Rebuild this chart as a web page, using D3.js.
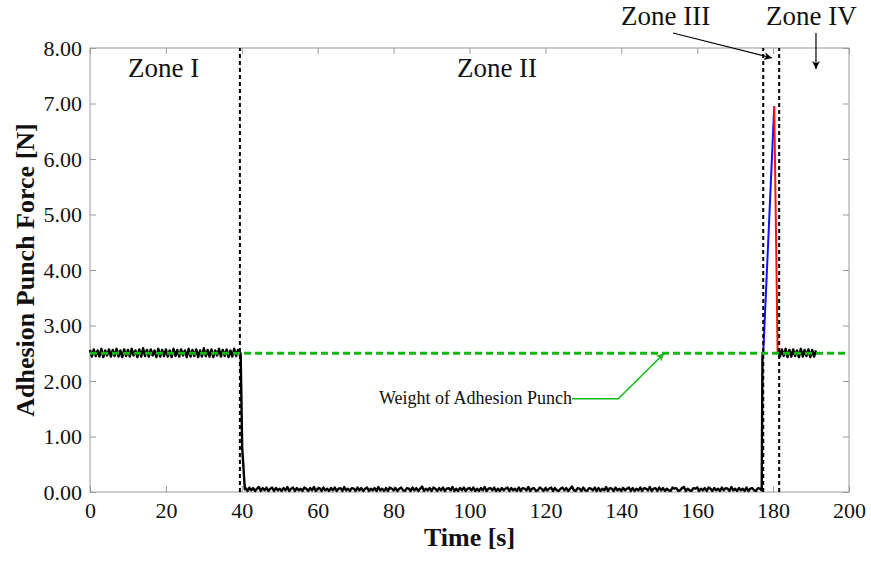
<!DOCTYPE html>
<html><head><meta charset="utf-8">
<script src="https://cdn.jsdelivr.net/npm/d3@7"></script>
<style>
body{margin:0;background:#fff}
svg{display:block}
text{font-family:"Liberation Serif","Times New Roman",serif;fill:#111}
</style>
</head><body>
<svg id="c" width="871" height="561"></svg>
<script>
// ---------------- data ----------------
const xTicks = [0, 20, 40, 60, 80, 100, 120, 140, 160, 180, 200];
const yTicks = [0, 1, 2, 3, 4, 5, 6, 7, 8];
const xTitle = "Time [s]";
const yTitle = "Adhesion Punch Force [N]";

// Zone I: punch resting, sampled every 0.5 s from t = 0
const zone1Start = 0, zone1Step = 0.5;
const zone1Force = [
 2.56,2.44,2.57,2.45,2.55,2.44,2.58,2.43,2.55,2.46,2.57,2.44,2.56,2.45,2.58,2.44,2.55,2.43,2.57,2.45,
 2.56,2.44,2.58,2.46,2.55,2.43,2.57,2.44,2.59,2.45,2.56,2.44,2.57,2.46,2.55,2.43,2.58,2.44,2.56,2.45,
 2.57,2.44,2.55,2.43,2.58,2.45,2.56,2.44,2.57,2.46,2.55,2.43,2.58,2.44,2.56,2.45,2.57,2.43,2.55,2.44,
 2.59,2.45,2.56,2.44,2.57,2.43,2.55,2.46,2.58,2.44,2.56,2.45,2.57,2.43,2.55,2.44,2.58,2.45,2.56,2.47
];
// drop when punch is lifted
const dropTimes = [39.7, 40.1, 40.8];
const dropForce = [2.50, 0.80, 0.05];
// Zone II: punch lifted, sampled every 0.5 s from t = 41
const zone2Start = 41, zone2Step = 0.5;
const zone2Force = [
 .07,.02,.08,.03,.07,.02,.06,.09,.02,.07,.03,.08,.02,.06,.08,.02,.07,.03,.06,.02,
 .07,.03,.09,.02,.06,.08,.02,.07,.03,.06,.02,.08,.06,.02,.07,.03,.09,.02,.06,.07,
 .02,.08,.03,.06,.02,.07,.03,.08,.02,.06,.07,.02,.09,.03,.06,.02,.07,.06,.02,.08,
 .03,.07,.02,.06,.08,.02,.06,.03,.07,.02,.09,.03,.06,.02,.07,.02,.08,.06,.03,.07,
 .02,.06,.08,.03,.02,.07,.06,.02,.08,.03,.07,.02,.06,.10,.02,.06,.03,.07,.02,.08,
 .06,.02,.07,.03,.08,.02,.06,.07,.03,.09,.02,.06,.02,.07,.03,.08,.02,.06,.07,.03,
 .08,.02,.06,.02,.07,.03,.09,.02,.06,.07,.03,.08,.02,.06,.02,.07,.03,.06,.08,.02,
 .07,.03,.06,.02,.08,.02,.07,.06,.03,.09,.02,.06,.07,.02,.03,.08,.06,.02,.07,.03,
 .06,.08,.02,.07,.03,.02,.06,.08,.03,.07,.02,.06,.10,.03,.02,.07,.06,.02,.08,.03,
 .02,.07,.06,.03,.08,.02,.07,.02,.06,.03,.09,.02,.07,.06,.02,.08,.03,.06,.02,.07,
 .03,.06,.08,.02,.07,.02,.06,.03,.08,.02,.07,.06,.03,.09,.02,.06,.07,.02,.08,.03,
 .07,.02,.06,.03,.02,.08,.06,.07,.02,.03,.07,.09,.02,.06,.03,.02,.07,.06,.08,.02,
 .06,.03,.07,.02,.08,.06,.02,.07,.03,.06,.02,.08,.03,.07,.06,.02,.09,.03,.06,.02,
 .07,.03,.06,.02,.08,.02,.06,.07,.03,.02,.07,.06,.03
];
// rise when punch touches again
const riseTimes = [177.2];
const riseForce = [2.50];
// Zone III: loading (blue) and unloading (red)
const loadTimes = [177.4, 180.3];
const loadForce = [2.50, 6.95];
const unloadTimes = [180.3, 181.2];
const unloadForce = [6.95, 2.50];
// Zone IV: resting again, sampled every 0.5 s from t = 181.3
const zone4Start = 181.3, zone4Step = 0.5;
const zone4Force = [
 2.56,2.44,2.57,2.45,2.58,2.43,2.56,2.44,2.57,2.45,2.55,2.43,2.58,2.44,2.56,2.45,2.57,2.43,2.56,2.44,2.55
];
// zone boundaries (s) and weight of punch (N)
const zoneBounds = [39.5, 177.4, 181.6];
const punchWeight = 2.5;
const zoneLabels = ["Zone I", "Zone II", "Zone III", "Zone IV"];
const weightLabel = "Weight of Adhesion Punch";

// ---------------- chart ----------------
const svg = d3.select("#c");
const L = 90, R = 849, T = 48, B = 492;
const x = d3.scaleLinear().domain([0, 200]).range([L, R]);
const y = d3.scaleLinear().domain([0, 8]).range([B, T]);

const series = (start, step, vals) => vals.map((v, i) => [start + i * step, v]);
const pairs = (ts, vs) => ts.map((t, i) => [t, vs[i]]);

const black1 = [].concat(
  series(zone1Start, zone1Step, zone1Force),
  pairs(dropTimes, dropForce),
  series(zone2Start, zone2Step, zone2Force),
  pairs(riseTimes, riseForce)
);
const black2 = series(zone4Start, zone4Step, zone4Force);

const line = d3.line().x(d => x(d[0])).y(d => y(d[1]));

const frameColor = "#9a9a9a";
const serif = '"Liberation Serif","Times New Roman",serif';

// axes with inward ticks
const gx = svg.append("g").attr("transform", `translate(0,${B})`)
  .call(d3.axisBottom(x).tickValues(xTicks).tickSizeInner(-6).tickSizeOuter(0).tickPadding(10).tickFormat(d3.format("d")));
const gxt = svg.append("g").attr("transform", `translate(0,${T})`)
  .call(d3.axisTop(x).tickValues(xTicks).tickSizeInner(-6).tickSizeOuter(0).tickFormat(""));
const gy = svg.append("g").attr("transform", `translate(${L},0)`)
  .call(d3.axisLeft(y).tickValues(yTicks).tickSizeInner(-6).tickSizeOuter(0).tickPadding(8).tickFormat(d3.format(".2f")));
const gyr = svg.append("g").attr("transform", `translate(${R},0)`)
  .call(d3.axisRight(y).tickValues(yTicks).tickSizeInner(-6).tickSizeOuter(0).tickFormat(""));
[gx, gxt, gy, gyr].forEach(g => {
  g.attr("font-family", serif);
  g.select(".domain").remove();
  g.selectAll("line").attr("stroke", frameColor);
  g.selectAll("text").style("font-family", serif).style("font-size", "22px").attr("fill", "#111");
});

svg.append("rect").attr("x", L).attr("y", T).attr("width", R - L).attr("height", B - T)
  .attr("fill", "none").attr("stroke", frameColor).attr("stroke-width", 1);

// data lines
svg.append("path").datum(black1).attr("d", line).attr("fill", "none").attr("stroke", "#000").attr("stroke-width", 2.4).attr("stroke-linejoin", "round");
svg.append("path").datum(black2).attr("d", line).attr("fill", "none").attr("stroke", "#000").attr("stroke-width", 2.4).attr("stroke-linejoin", "round");
svg.append("path").datum(pairs(loadTimes, loadForce)).attr("d", line).attr("fill", "none").attr("stroke", "#1010ff").attr("stroke-width", 2);
svg.append("path").datum(pairs(unloadTimes, unloadForce)).attr("d", line).attr("fill", "none").attr("stroke", "#ff1010").attr("stroke-width", 2);

// zone boundaries
svg.selectAll(".zb").data(zoneBounds).enter().append("line")
  .attr("x1", d => x(d)).attr("x2", d => x(d)).attr("y1", y(0)).attr("y2", y(8))
  .attr("stroke", "#000").attr("stroke-width", 2).attr("stroke-dasharray", "4,3");

// weight line
svg.append("line").attr("x1", x(0)).attr("x2", x(200)).attr("y1", y(punchWeight)).attr("y2", y(punchWeight))
  .attr("stroke", "#14b814").attr("stroke-width", 3).attr("stroke-dasharray", "7,4");

// arrow markers
const defs = svg.append("defs");
function marker(id, color) {
  defs.append("marker").attr("id", id).attr("viewBox", "0 0 10 10").attr("refX", 10).attr("refY", 5)
    .attr("markerWidth", 12).attr("markerHeight", 8).attr("markerUnits", "userSpaceOnUse").attr("orient", "auto")
    .append("path").attr("d", "M0,0 L10,5 L0,10 L3,5 Z").attr("fill", color);
}
marker("ab", "#000");
marker("ag", "#14b814");

// zone labels
const zoneLabelPos = [[128, 77, "start"], [497, 77, "middle"], [621, 25, "start"], [766, 25, "start"]];
svg.selectAll(".zl").data(zoneLabels).enter().append("text")
  .attr("x", (d, i) => zoneLabelPos[i][0]).attr("y", (d, i) => zoneLabelPos[i][1])
  .attr("text-anchor", (d, i) => zoneLabelPos[i][2])
  .style("font-size", "27px").text(d => d);

// zone III / IV arrows
svg.append("line").attr("x1", 673).attr("y1", 33).attr("x2", x(179.7)).attr("y2", y(7.82))
  .attr("stroke", "#000").attr("stroke-width", 1.2).attr("marker-end", "url(#ab)");
svg.append("line").attr("x1", x(191.3)).attr("y1", 33).attr("x2", x(191.3)).attr("y2", y(7.62))
  .attr("stroke", "#000").attr("stroke-width", 1.2).attr("marker-end", "url(#ab)");

// weight annotation
svg.append("text").attr("x", x(127)).attr("y", y(1.68) + 5).attr("text-anchor", "end")
  .style("font-size", "18px").text(weightLabel);
svg.append("path")
  .attr("d", `M${x(127)},${y(1.68)} L${x(139.2)},${y(1.68)} L${x(151.3)},${y(punchWeight)}`)
  .attr("fill", "none").attr("stroke", "#14b814").attr("stroke-width", 1.5).attr("marker-end", "url(#ag)");

// axis titles
svg.append("text").attr("x", (L + R) / 2).attr("y", 546).attr("text-anchor", "middle")
  .style("font-size", "26px").style("font-weight", "bold").text(xTitle);
svg.append("text").attr("transform", `translate(34,${(T + B) / 2}) rotate(-90)`).attr("text-anchor", "middle")
  .style("font-size", "26px").style("font-weight", "bold").text(yTitle);
</script>
</body></html>
